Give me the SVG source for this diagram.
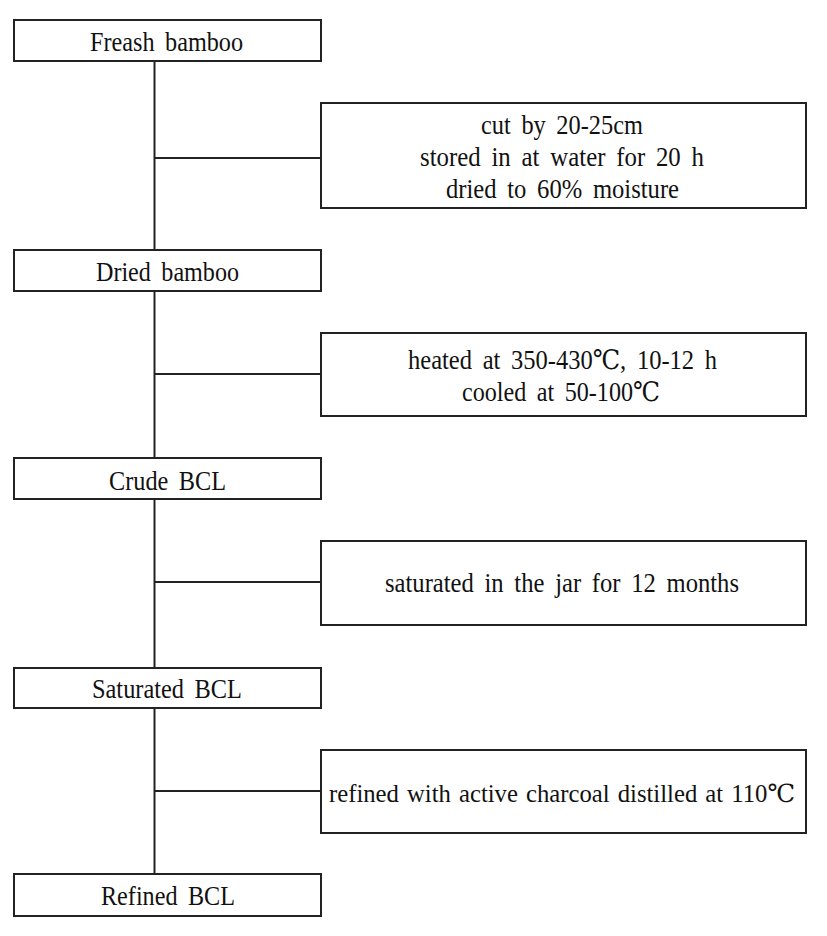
<svg xmlns="http://www.w3.org/2000/svg" width="827" height="936" viewBox="0 0 827 936">
<style>
.box{fill:#fff;stroke:#222;stroke-width:2}
.ln{stroke:#222;stroke-width:2;fill:none}
.t{font-family:'Liberation Serif','DejaVu Serif',serif;font-size:27px;fill:#111;word-spacing:5px}
.c{transform-box:fill-box}
</style>
<rect width="827" height="936" fill="#fff"/>
<g id="connectors">
<line class="ln" x1="154.5" y1="61" x2="154.5" y2="250"/>
<line class="ln" x1="154.5" y1="291" x2="154.5" y2="458"/>
<line class="ln" x1="154.5" y1="499" x2="154.5" y2="668"/>
<line class="ln" x1="154.5" y1="708" x2="154.5" y2="874"/>
<line class="ln" x1="154.5" y1="158" x2="321" y2="158"/>
<line class="ln" x1="154.5" y1="374" x2="321" y2="374"/>
<line class="ln" x1="154.5" y1="582" x2="321" y2="582"/>
<line class="ln" x1="154.5" y1="791" x2="321" y2="791"/>
</g>
<g id="fresh-bamboo">
<rect class="box" x="14" y="20" width="307" height="41"/>
<text class="t" x="90" y="51" textLength="153" lengthAdjust="spacingAndGlyphs">Freash bamboo</text>
</g>
<g id="step1">
<rect class="box" x="321" y="103" width="485" height="105"/>
<text class="t" x="481" y="134" textLength="162" lengthAdjust="spacingAndGlyphs">cut by 20-25cm</text>
<text class="t" x="420" y="166" textLength="284" lengthAdjust="spacingAndGlyphs">stored in at water for 20 h</text>
<text class="t" x="446" y="198" textLength="233" lengthAdjust="spacingAndGlyphs">dried to 60% moisture</text>
</g>
<g id="dried-bamboo">
<rect class="box" x="14" y="250" width="307" height="41"/>
<text class="t" x="96" y="281" textLength="143" lengthAdjust="spacingAndGlyphs">Dried bamboo</text>
</g>
<g id="step2">
<rect class="box" x="321" y="333" width="485" height="83"/>
<text class="t" x="408" y="369" textLength="309" lengthAdjust="spacingAndGlyphs">heated at 350-430℃, 10-12 h</text>
<text class="t" x="462" y="401" textLength="198" lengthAdjust="spacingAndGlyphs">cooled at 50-100℃</text>
</g>
<g id="crude-bcl">
<rect class="box" x="14" y="458" width="307" height="41"/>
<text class="t" x="109" y="490" textLength="117" lengthAdjust="spacingAndGlyphs">Crude BCL</text>
</g>
<g id="step3">
<rect class="box" x="321" y="541" width="485" height="84"/>
<text class="t" x="385" y="592" textLength="354" lengthAdjust="spacingAndGlyphs">saturated in the jar for 12 months</text>
</g>
<g id="saturated-bcl">
<rect class="box" x="14" y="668" width="307" height="40"/>
<text class="t" x="92" y="698" textLength="150" lengthAdjust="spacingAndGlyphs">Saturated BCL</text>
</g>
<g id="step4">
<rect class="box" x="321" y="750" width="485" height="83"/>
<text class="t" x="329" y="802" style="font-size:25px;word-spacing:2px" textLength="466" lengthAdjust="spacingAndGlyphs">refined with active charcoal distilled at 110℃</text>
</g>
<g id="refined-bcl">
<rect class="box" x="14" y="874" width="307" height="42"/>
<text class="t" x="101" y="905" textLength="134" lengthAdjust="spacingAndGlyphs">Refined BCL</text>
</g>
</svg>
